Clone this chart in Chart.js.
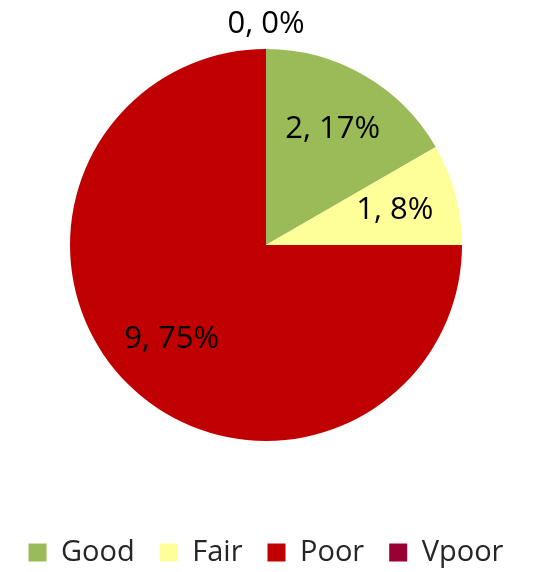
<!DOCTYPE html>
<html>
<head>
<meta charset="utf-8">
<script src="https://cdn.jsdelivr.net/npm/chart.js@4"></script>
<style>
  html, body { margin: 0; padding: 0; background: #fff; }
  #wrap { width: 542px; height: 572px; }
</style>
</head>
<body>
<div id="wrap"><canvas id="qualityPie"></canvas></div>
<script>
// chart data
const categories = ["Good", "Fair", "Poor", "Vpoor"];
const counts = [2, 1, 9, 0];
const sliceColors = ["#9BBB59", "#FFFF99", "#C00000", "#990033"];

const FONT = "'Open Sans', 'Noto Sans', sans-serif";

// draws "value, pct%" on each slice, zero slices go outside
const sliceLabels = {
  id: "sliceLabels",
  afterDatasetsDraw(chart) {
    const ctx = chart.ctx;
    const meta = chart.getDatasetMeta(0);
    const total = counts.reduce((a, b) => a + b, 0);
    ctx.save();
    ctx.font = "31px " + FONT;
    ctx.fillStyle = "#000";
    ctx.textAlign = "center";
    ctx.textBaseline = "middle";
    meta.data.forEach((arc, i) => {
      const v = counts[i];
      const pct = total ? Math.round((v / total) * 100) : 0;
      const mid = (arc.startAngle + arc.endAngle) / 2;
      const r = v > 0 ? arc.outerRadius * 0.68 : arc.outerRadius + 25;
      const x = arc.x + Math.cos(mid) * r;
      const y = arc.y + Math.sin(mid) * r;
      ctx.fillText(v + ", " + pct + "%", x, y);
    });
    ctx.restore();
  },
};

new Chart(document.getElementById("qualityPie").getContext("2d"), {
  type: "pie",
  data: {
    labels: categories,
    datasets: [
      {
        data: counts,
        backgroundColor: sliceColors,
        borderWidth: 0,
      },
    ],
  },
  options: {
    responsive: true,
    maintainAspectRatio: false,
    animation: false,
    layout: {
      padding: { top: 49, right: 10, bottom: 0, left: 0 },
    },
    plugins: {
      tooltip: { enabled: false },
      legend: {
        position: "bottom",
        maxHeight: 131,
        title: {
          display: true,
          text: "",
          font: { size: 10 },
          padding: { top: 60, bottom: 0 },
        },
        labels: {
          boxWidth: 18,
          boxHeight: 18,
          padding: 25,
          color: "#262626",
          font: { family: FONT, size: 29 },
        },
      },
    },
  },
  plugins: [sliceLabels],
});
</script>
</body>
</html>
